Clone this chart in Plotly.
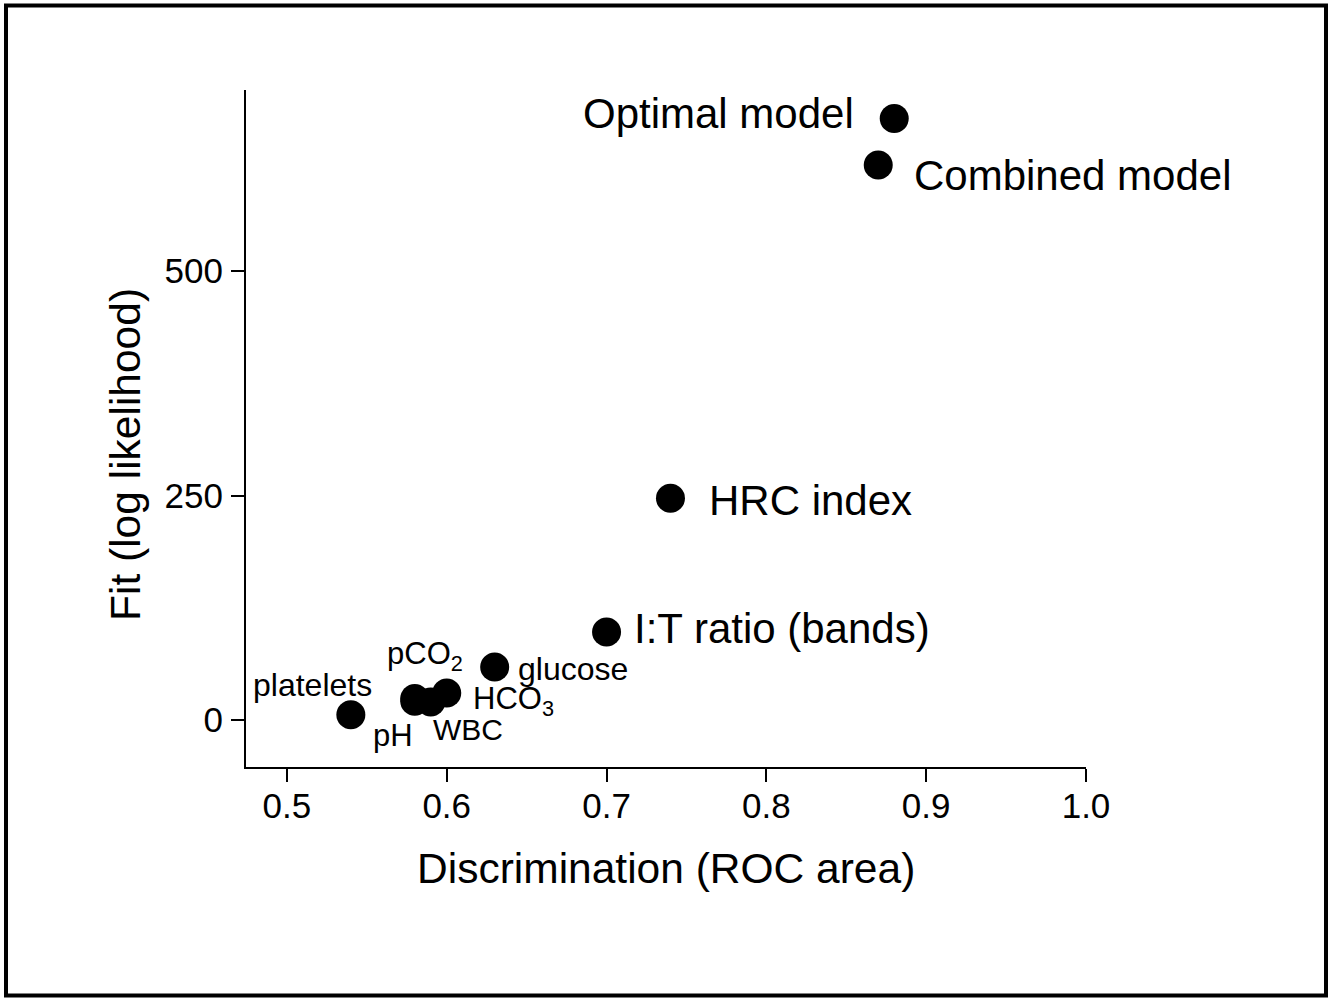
import plotly.graph_objects as go

# ---- data ----
names = ["platelets", "pH", "pCO<sub>2</sub>", "WBC", "HCO<sub>3</sub>", "glucose",
         "I:T ratio (bands)", "HRC index", "Combined model", "Optimal model"]
roc_area = [0.54, 0.58, 0.58, 0.59, 0.60, 0.63, 0.70, 0.74, 0.87, 0.88]
log_lik = [6, 21, 24, 20, 30, 59, 98, 247, 618, 670]

x_ticks = [0.5, 0.6, 0.7, 0.8, 0.9, 1.0]
x_tick_text = ["0.5", "0.6", "0.7", "0.8", "0.9", "1.0"]
y_ticks = [0, 250, 500]
y_tick_text = ["0", "250", "500"]

# ---- label placement (style only): anchor, xshift, yshift, font size ----
label_style = [
    ("right", 23, 30, 32),     # platelets
    ("right", 0, -34, 31),     # pH
    ("left", -30, 42, 31),     # pCO2
    ("left", 0, -27, 30),      # WBC
    ("left", 24, -8, 31),      # HCO3
    ("left", 21, -2, 32),      # glucose
    ("left", 25, 4, 42),       # I:T ratio
    ("left", 37, -2, 42),      # HRC index
    ("left", 34, -10, 42),     # Combined model
    ("right", -38, 5, 42),     # Optimal model
]

FONT = "Arial, Liberation Sans, Helvetica, sans-serif"

fig = go.Figure()
fig.add_trace(go.Scatter(
    x=roc_area, y=log_lik, mode="markers",
    marker=dict(size=29, color="black", line=dict(width=0)),
    showlegend=False, hoverinfo="skip",
))

annotations = []
for name, xv, yv, (anc, xs, ys, fs) in zip(names, roc_area, log_lik, label_style):
    annotations.append(dict(
        x=xv, y=yv, xref="x", yref="y", text=name, showarrow=False,
        xanchor=anc, yanchor="middle", xshift=xs, yshift=ys,
        font=dict(family=FONT, size=fs, color="black"),
    ))

W, H = 1336, 998
L, R, T, B = 246, 1086, 90, 767
pw, ph = R - L, B - T

def px_to_paper_x(px):
    return (px - L) / pw

def px_to_paper_y(py):
    return (B - py) / ph

# axis titles as annotations
annotations.append(dict(
    x=0.5, y=px_to_paper_y(869), xref="paper", yref="paper",
    text="Discrimination (ROC area)", showarrow=False,
    xanchor="center", yanchor="middle",
    font=dict(family=FONT, size=42.5, color="black"),
))
annotations.append(dict(
    x=px_to_paper_x(125), y=px_to_paper_y(455), xref="paper", yref="paper",
    text="Fit (log likelihood)", showarrow=False, textangle=-90,
    xanchor="center", yanchor="middle",
    font=dict(family=FONT, size=42.5, color="black"),
))

shapes = [dict(
    type="rect", xref="paper", yref="paper",
    x0=px_to_paper_x(6), x1=px_to_paper_x(1326),
    y0=px_to_paper_y(995.5), y1=px_to_paper_y(5.5),
    line=dict(color="black", width=4), fillcolor="rgba(0,0,0,0)",
    layer="above",
)]

fig.update_layout(
    width=W, height=H,
    margin=dict(l=L, r=W - R, t=T, b=H - B, pad=0),
    paper_bgcolor="white", plot_bgcolor="white",
    font=dict(family=FONT, color="black"),
    annotations=annotations, shapes=shapes,
    xaxis=dict(
        range=[0.4744, 1.0], tickvals=x_ticks, ticktext=x_tick_text,
        showgrid=False, zeroline=False, showline=True, linecolor="black", linewidth=2,
        ticks="outside", ticklen=13, tickwidth=2, tickcolor="black",
        tickfont=dict(family=FONT, size=35, color="black"),
        ticklabelstandoff=-6,
    ),
    yaxis=dict(
        range=[-52.3, 701.6], tickvals=y_ticks, ticktext=y_tick_text,
        showgrid=False, zeroline=False, showline=True, linecolor="black", linewidth=2,
        ticks="outside", ticklen=13, tickwidth=2, tickcolor="black",
        tickfont=dict(family=FONT, size=35, color="black"),
        ticklabelstandoff=1,
    ),
)

fig.write_html("out.html")
